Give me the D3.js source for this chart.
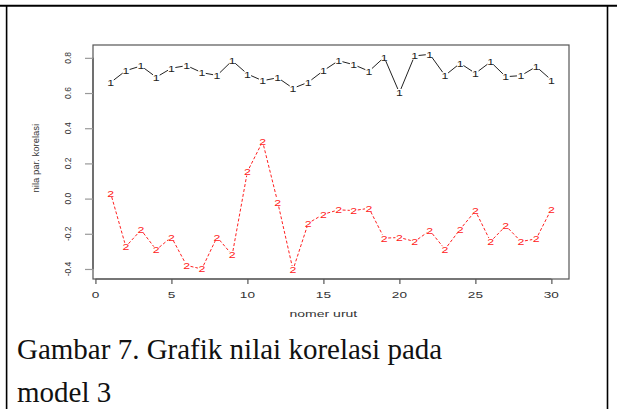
<!DOCTYPE html>
<html>
<head>
<meta charset="utf-8">
<script src="https://cdn.jsdelivr.net/npm/d3@7"></script>
<style>
  html, body { margin: 0; padding: 0; background: #fff; }
  svg { display: block; }
</style>
</head>
<body>
<svg id="chart" width="617" height="409"></svg>
<script>
// Observation index (nomer urut)
const nomerUrut = d3.range(1, 31);

// Series 1: correlation values, model 3 (black, marker "1")
const seri1 = [0.66, 0.727, 0.754, 0.69, 0.741, 0.756, 0.716, 0.70, 0.784, 0.708,
               0.67, 0.687, 0.627, 0.661, 0.727, 0.784, 0.761, 0.724, 0.803, 0.602,
               0.811, 0.82, 0.70, 0.769, 0.712, 0.777, 0.693, 0.699, 0.75, 0.674];

// Series 2: correlation values, model 3 (red, marker "2")
const seri2 = [0.031, -0.273, -0.178, -0.291, -0.219, -0.38, -0.40, -0.219, -0.32, 0.153,
               0.324, -0.023, -0.405, -0.14, -0.089, -0.064, -0.068, -0.055, -0.225, -0.221,
               -0.244, -0.182, -0.288, -0.174, -0.07, -0.244, -0.155, -0.244, -0.229, -0.06];

const xTicks = [0, 5, 10, 15, 20, 25, 30];
const yTicks = [-0.4, -0.2, 0.0, 0.2, 0.4, 0.6, 0.8];
const yTickLabels = ["-0.4", "-0.2", "0.0", "0.2", "0.4", "0.6", "0.8"];

const svg = d3.select("#chart");

// page frame
svg.append("line").attr("x1", 0).attr("x2", 617).attr("y1", 5.8).attr("y2", 5.8)
  .attr("stroke", "#000").attr("stroke-width", 2);
svg.append("line").attr("x1", 6.6).attr("x2", 6.6).attr("y1", 5).attr("y2", 409)
  .attr("stroke", "#000").attr("stroke-width", 1.6);
svg.append("line").attr("x1", 607.5).attr("x2", 607.5).attr("y1", 5).attr("y2", 409)
  .attr("stroke", "#000").attr("stroke-width", 1.6);

// plot region
const plot = { left: 93, right: 569, top: 45, bottom: 279 };
const x = d3.scaleLinear().domain([-0.16, 31.16]).range([plot.left, plot.right]);
const y = d3.scaleLinear().domain([-0.457, 0.873]).range([plot.bottom, plot.top]);

const axisColor = "#555";

svg.append("rect")
  .attr("x", plot.left).attr("y", plot.top)
  .attr("width", plot.right - plot.left).attr("height", plot.bottom - plot.top)
  .attr("fill", "none").attr("stroke", axisColor).attr("stroke-width", 1.2);

// x axis
const xAxis = svg.append("g").attr("transform", `translate(0,${plot.bottom})`)
  .call(d3.axisBottom(x).tickValues(xTicks).tickSize(5).tickSizeOuter(0).tickFormat(""));
xAxis.select(".domain").attr("d", `M${x(0)},0H${x(30)}`).attr("stroke", axisColor).attr("stroke-width", 1.2);
xAxis.selectAll(".tick line").attr("stroke", axisColor).attr("stroke-width", 1.2);

svg.append("g").selectAll("text").data(xTicks).join("text")
  .attr("transform", d => `translate(${x(d)},298) scale(1.6,1)`)
  .attr("text-anchor", "middle")
  .attr("font-family", "Liberation Sans, Arial, sans-serif")
  .attr("font-size", 8.5).attr("fill", "#333")
  .text(d => d);

svg.append("text")
  .attr("transform", `translate(${(x(0) + x(30)) / 2},317) scale(1.65,1)`)
  .attr("text-anchor", "middle")
  .attr("font-family", "Liberation Sans, Arial, sans-serif")
  .attr("font-size", 8.5).attr("fill", "#333")
  .text("nomer urut");

// y axis
const yAxis = svg.append("g").attr("transform", `translate(${plot.left},0)`)
  .call(d3.axisLeft(y).tickValues(yTicks).tickSize(8).tickSizeOuter(0).tickFormat(""));
yAxis.select(".domain").attr("d", `M0,${y(-0.4)}V${y(0.8)}`).attr("stroke", axisColor).attr("stroke-width", 1.2);
yAxis.selectAll(".tick line").attr("stroke", "#999").attr("stroke-width", 1.2);

svg.append("g").selectAll("text").data(yTicks).join("text")
  .attr("transform", d => `translate(71,${y(d)}) rotate(-90)`)
  .attr("text-anchor", "middle")
  .attr("font-family", "Liberation Sans, Arial, sans-serif")
  .attr("font-size", 8.5).attr("fill", "#333")
  .text((d, i) => yTickLabels[i]);

svg.append("text")
  .attr("transform", `translate(39,${y(0.23)}) rotate(-90)`)
  .attr("text-anchor", "middle")
  .attr("font-family", "Liberation Sans, Arial, sans-serif")
  .attr("font-size", 9.5).attr("fill", "#333")
  .text("nila par. korelasi");

// "b" style series: line segments broken around each plotted character
function drawSeries(values, color, dash, label) {
  const pts = values.map((v, i) => [x(nomerUrut[i]), y(v)]);
  const gap = 4;
  const segs = [];
  for (let i = 0; i < pts.length - 1; i++) {
    const [x0, y0] = pts[i], [x1, y1] = pts[i + 1];
    const len = Math.hypot(x1 - x0, y1 - y0);
    if (len <= 2 * gap) continue;
    const ux = (x1 - x0) / len, uy = (y1 - y0) / len;
    segs.push([x0 + ux * gap, y0 + uy * gap, x1 - ux * gap, y1 - uy * gap]);
  }
  const g = svg.append("g");
  g.selectAll("line").data(segs).join("line")
    .attr("x1", d => d[0]).attr("y1", d => d[1])
    .attr("x2", d => d[2]).attr("y2", d => d[3])
    .attr("stroke", color).attr("stroke-width", 1)
    .attr("stroke-dasharray", dash);
  g.selectAll("text").data(pts).join("text")
    .attr("transform", d => `translate(${d[0]},${d[1] + 3.5}) scale(1.3,1)`)
    .attr("text-anchor", "middle")
    .attr("font-family", "Liberation Sans, Arial, sans-serif")
    .attr("font-size", 9.5).attr("fill", color)
    .text(label);
}

drawSeries(seri1, "#222", null, "1");
drawSeries(seri2, "#ff2020", "3,2", "2");

// caption
const caption = svg.append("g")
  .attr("font-family", "Liberation Serif, Times New Roman, serif")
  .attr("font-size", 29).attr("fill", "#111");
caption.append("text").attr("x", 17).attr("y", 359).text("Gambar 7. Grafik nilai korelasi pada");
caption.append("text").attr("x", 17).attr("y", 402).text("model 3");
</script>
</body>
</html>
